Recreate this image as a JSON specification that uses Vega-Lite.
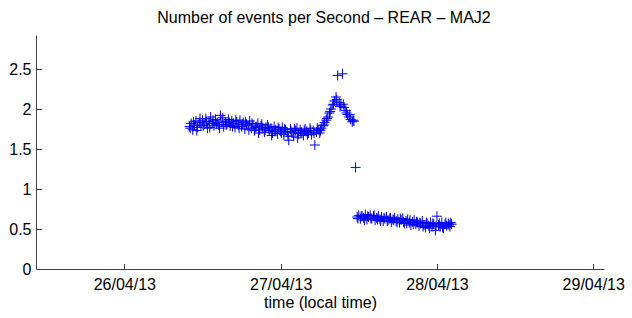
{
  "$schema": "https://vega.github.io/schema/vega-lite/v6.json",
  "width": 568,
  "height": 234,
  "autosize": {"type": "none"},
  "padding": {"left": 36, "top": 35, "right": 28, "bottom": 49},
  "background": "white",
  "config": {
    "view": {"stroke": null},
    "font": "Liberation Sans"
  },
  "title": {
    "text": "Number of events per Second – REAR – MAJ2",
    "font": "Liberation Sans",
    "fontSize": 16,
    "fontWeight": "normal",
    "color": "#000000",
    "anchor": "middle",
    "dx": 4,
    "offset": 9
  },
  "data": {
    "values": [
      {"t": "2013-04-26T10:00", "v": 1.78}, {"t": "2013-04-26T10:15", "v": 1.82}, {"t": "2013-04-26T10:30", "v": 1.74}, {"t": "2013-04-26T10:45", "v": 1.80},
      {"t": "2013-04-26T11:00", "v": 1.85}, {"t": "2013-04-26T11:15", "v": 1.77}, {"t": "2013-04-26T11:30", "v": 1.83}, {"t": "2013-04-26T11:45", "v": 1.79},
      {"t": "2013-04-26T12:00", "v": 1.86}, {"t": "2013-04-26T12:15", "v": 1.81}, {"t": "2013-04-26T12:30", "v": 1.88}, {"t": "2013-04-26T12:45", "v": 1.76},
      {"t": "2013-04-26T13:00", "v": 1.84}, {"t": "2013-04-26T13:15", "v": 1.90}, {"t": "2013-04-26T13:30", "v": 1.82}, {"t": "2013-04-26T13:45", "v": 1.79},
      {"t": "2013-04-26T14:00", "v": 1.87}, {"t": "2013-04-26T14:15", "v": 1.83}, {"t": "2013-04-26T14:30", "v": 1.80}, {"t": "2013-04-26T14:45", "v": 1.92},
      {"t": "2013-04-26T15:00", "v": 1.85}, {"t": "2013-04-26T15:15", "v": 1.78}, {"t": "2013-04-26T15:30", "v": 1.84}, {"t": "2013-04-26T15:45", "v": 1.81},
      {"t": "2013-04-26T16:00", "v": 1.87}, {"t": "2013-04-26T16:15", "v": 1.79}, {"t": "2013-04-26T16:30", "v": 1.85}, {"t": "2013-04-26T16:45", "v": 1.82},
      {"t": "2013-04-26T17:00", "v": 1.77}, {"t": "2013-04-26T17:15", "v": 1.84}, {"t": "2013-04-26T17:30", "v": 1.80}, {"t": "2013-04-26T17:45", "v": 1.86},
      {"t": "2013-04-26T18:00", "v": 1.78}, {"t": "2013-04-26T18:15", "v": 1.83}, {"t": "2013-04-26T18:30", "v": 1.75}, {"t": "2013-04-26T18:45", "v": 1.81},
      {"t": "2013-04-26T19:00", "v": 1.79}, {"t": "2013-04-26T19:15", "v": 1.85}, {"t": "2013-04-26T19:30", "v": 1.76}, {"t": "2013-04-26T19:45", "v": 1.80},
      {"t": "2013-04-26T20:00", "v": 1.73}, {"t": "2013-04-26T20:15", "v": 1.78}, {"t": "2013-04-26T20:30", "v": 1.82}, {"t": "2013-04-26T20:45", "v": 1.74},
      {"t": "2013-04-26T21:00", "v": 1.79}, {"t": "2013-04-26T21:15", "v": 1.76}, {"t": "2013-04-26T21:30", "v": 1.71}, {"t": "2013-04-26T21:45", "v": 1.77},
      {"t": "2013-04-26T22:00", "v": 1.80}, {"t": "2013-04-26T22:15", "v": 1.73}, {"t": "2013-04-26T22:30", "v": 1.76}, {"t": "2013-04-26T22:45", "v": 1.70},
      {"t": "2013-04-26T23:00", "v": 1.78}, {"t": "2013-04-26T23:15", "v": 1.74}, {"t": "2013-04-26T23:30", "v": 1.69}, {"t": "2013-04-26T23:45", "v": 1.75},
      {"t": "2013-04-27T00:00", "v": 1.72}, {"t": "2013-04-27T00:15", "v": 1.77}, {"t": "2013-04-27T00:30", "v": 1.68}, {"t": "2013-04-27T00:45", "v": 1.74},
      {"t": "2013-04-27T01:00", "v": 1.71}, {"t": "2013-04-27T01:15", "v": 1.61}, {"t": "2013-04-27T01:30", "v": 1.75}, {"t": "2013-04-27T01:45", "v": 1.70},
      {"t": "2013-04-27T02:00", "v": 1.66}, {"t": "2013-04-27T02:15", "v": 1.73}, {"t": "2013-04-27T02:30", "v": 1.76}, {"t": "2013-04-27T02:45", "v": 1.69},
      {"t": "2013-04-27T03:00", "v": 1.74}, {"t": "2013-04-27T03:15", "v": 1.71}, {"t": "2013-04-27T03:30", "v": 1.67}, {"t": "2013-04-27T03:45", "v": 1.75},
      {"t": "2013-04-27T04:00", "v": 1.72}, {"t": "2013-04-27T04:15", "v": 1.70}, {"t": "2013-04-27T04:30", "v": 1.76}, {"t": "2013-04-27T04:45", "v": 1.68},
      {"t": "2013-04-27T05:00", "v": 1.73}, {"t": "2013-04-27T05:15", "v": 1.55}, {"t": "2013-04-27T05:30", "v": 1.71}, {"t": "2013-04-27T05:45", "v": 1.74},
      {"t": "2013-04-27T06:00", "v": 1.70}, {"t": "2013-04-27T06:15", "v": 1.76}, {"t": "2013-04-27T06:30", "v": 1.79}, {"t": "2013-04-27T06:45", "v": 1.83},
      {"t": "2013-04-27T07:00", "v": 1.86}, {"t": "2013-04-27T07:15", "v": 1.90}, {"t": "2013-04-27T07:30", "v": 1.95}, {"t": "2013-04-27T07:45", "v": 2.00},
      {"t": "2013-04-27T08:00", "v": 2.05}, {"t": "2013-04-27T08:15", "v": 2.10}, {"t": "2013-04-27T08:30", "v": 2.15}, {"t": "2013-04-27T08:45", "v": 2.42},
      {"t": "2013-04-27T09:00", "v": 2.08}, {"t": "2013-04-27T09:15", "v": 2.05}, {"t": "2013-04-27T09:30", "v": 2.44}, {"t": "2013-04-27T09:45", "v": 2.02},
      {"t": "2013-04-27T10:00", "v": 1.98}, {"t": "2013-04-27T10:15", "v": 1.93}, {"t": "2013-04-27T10:30", "v": 1.90}, {"t": "2013-04-27T10:45", "v": 1.87},
      {"t": "2013-04-27T11:00", "v": 1.84}, {"t": "2013-04-27T11:15", "v": 1.85}, {"t": "2013-04-27T11:30", "v": 1.27},
      {"t": "2013-04-26T10:07", "v": 1.76}, {"t": "2013-04-26T10:37", "v": 1.84}, {"t": "2013-04-26T11:07", "v": 1.73}, {"t": "2013-04-26T11:37", "v": 1.88},
      {"t": "2013-04-26T12:07", "v": 1.79}, {"t": "2013-04-26T12:37", "v": 1.84}, {"t": "2013-04-26T13:07", "v": 1.77}, {"t": "2013-04-26T13:37", "v": 1.86},
      {"t": "2013-04-26T14:07", "v": 1.81}, {"t": "2013-04-26T14:37", "v": 1.76}, {"t": "2013-04-26T15:07", "v": 1.89}, {"t": "2013-04-26T15:37", "v": 1.80},
      {"t": "2013-04-26T16:07", "v": 1.83}, {"t": "2013-04-26T16:37", "v": 1.78}, {"t": "2013-04-26T17:07", "v": 1.86}, {"t": "2013-04-26T17:37", "v": 1.76},
      {"t": "2013-04-26T18:07", "v": 1.81}, {"t": "2013-04-26T18:37", "v": 1.84}, {"t": "2013-04-26T19:07", "v": 1.74}, {"t": "2013-04-26T19:37", "v": 1.82},
      {"t": "2013-04-26T20:07", "v": 1.77}, {"t": "2013-04-26T20:37", "v": 1.70}, {"t": "2013-04-26T21:07", "v": 1.81}, {"t": "2013-04-26T21:37", "v": 1.74},
      {"t": "2013-04-26T22:07", "v": 1.77}, {"t": "2013-04-26T22:37", "v": 1.67}, {"t": "2013-04-26T23:07", "v": 1.72}, {"t": "2013-04-26T23:37", "v": 1.77},
      {"t": "2013-04-27T00:07", "v": 1.70}, {"t": "2013-04-27T00:37", "v": 1.75}, {"t": "2013-04-27T01:07", "v": 1.66}, {"t": "2013-04-27T01:37", "v": 1.72},
      {"t": "2013-04-27T02:07", "v": 1.75}, {"t": "2013-04-27T02:37", "v": 1.64}, {"t": "2013-04-27T03:07", "v": 1.70}, {"t": "2013-04-27T03:37", "v": 1.73},
      {"t": "2013-04-27T04:07", "v": 1.68}, {"t": "2013-04-27T04:37", "v": 1.73}, {"t": "2013-04-27T05:07", "v": 1.70}, {"t": "2013-04-27T05:37", "v": 1.76},
      {"t": "2013-04-27T06:07", "v": 1.73}, {"t": "2013-04-27T06:37", "v": 1.80}, {"t": "2013-04-27T07:07", "v": 1.88}, {"t": "2013-04-27T07:37", "v": 1.97},
      {"t": "2013-04-27T08:07", "v": 2.06}, {"t": "2013-04-27T08:37", "v": 2.12}, {"t": "2013-04-27T09:07", "v": 2.03}, {"t": "2013-04-27T09:37", "v": 2.06},
      {"t": "2013-04-27T10:07", "v": 1.95}, {"t": "2013-04-27T10:37", "v": 1.93}, {"t": "2013-04-27T11:07", "v": 1.86},
      {"t": "2013-04-27T11:45", "v": 0.65}, {"t": "2013-04-27T12:00", "v": 0.67}, {"t": "2013-04-27T12:15", "v": 0.63}, {"t": "2013-04-27T12:30", "v": 0.66},
      {"t": "2013-04-27T12:45", "v": 0.64}, {"t": "2013-04-27T13:00", "v": 0.68}, {"t": "2013-04-27T13:15", "v": 0.62}, {"t": "2013-04-27T13:30", "v": 0.65},
      {"t": "2013-04-27T13:45", "v": 0.67}, {"t": "2013-04-27T14:00", "v": 0.63}, {"t": "2013-04-27T14:15", "v": 0.66}, {"t": "2013-04-27T14:30", "v": 0.61},
      {"t": "2013-04-27T14:45", "v": 0.64}, {"t": "2013-04-27T15:00", "v": 0.66}, {"t": "2013-04-27T15:15", "v": 0.62}, {"t": "2013-04-27T15:30", "v": 0.65},
      {"t": "2013-04-27T15:45", "v": 0.60}, {"t": "2013-04-27T16:00", "v": 0.63}, {"t": "2013-04-27T16:15", "v": 0.65}, {"t": "2013-04-27T16:30", "v": 0.61},
      {"t": "2013-04-27T16:45", "v": 0.63}, {"t": "2013-04-27T17:00", "v": 0.59}, {"t": "2013-04-27T17:15", "v": 0.62}, {"t": "2013-04-27T17:30", "v": 0.64},
      {"t": "2013-04-27T17:45", "v": 0.60}, {"t": "2013-04-27T18:00", "v": 0.62}, {"t": "2013-04-27T18:15", "v": 0.58}, {"t": "2013-04-27T18:30", "v": 0.61},
      {"t": "2013-04-27T18:45", "v": 0.63}, {"t": "2013-04-27T19:00", "v": 0.57}, {"t": "2013-04-27T19:15", "v": 0.60}, {"t": "2013-04-27T19:30", "v": 0.62},
      {"t": "2013-04-27T19:45", "v": 0.58}, {"t": "2013-04-27T20:00", "v": 0.55}, {"t": "2013-04-27T20:15", "v": 0.59}, {"t": "2013-04-27T20:30", "v": 0.61},
      {"t": "2013-04-27T20:45", "v": 0.56}, {"t": "2013-04-27T21:00", "v": 0.58}, {"t": "2013-04-27T21:15", "v": 0.54}, {"t": "2013-04-27T21:30", "v": 0.57},
      {"t": "2013-04-27T21:45", "v": 0.60}, {"t": "2013-04-27T22:00", "v": 0.55}, {"t": "2013-04-27T22:15", "v": 0.52}, {"t": "2013-04-27T22:30", "v": 0.57},
      {"t": "2013-04-27T22:45", "v": 0.54}, {"t": "2013-04-27T23:00", "v": 0.58}, {"t": "2013-04-27T23:15", "v": 0.53}, {"t": "2013-04-27T23:30", "v": 0.56},
      {"t": "2013-04-27T23:45", "v": 0.48}, {"t": "2013-04-28T00:00", "v": 0.66}, {"t": "2013-04-28T00:15", "v": 0.55}, {"t": "2013-04-28T00:30", "v": 0.53},
      {"t": "2013-04-28T00:45", "v": 0.58}, {"t": "2013-04-28T01:00", "v": 0.51}, {"t": "2013-04-28T01:15", "v": 0.56}, {"t": "2013-04-28T01:30", "v": 0.54},
      {"t": "2013-04-28T01:45", "v": 0.57}, {"t": "2013-04-28T02:00", "v": 0.53}, {"t": "2013-04-28T02:15", "v": 0.56},
      {"t": "2013-04-27T11:52", "v": 0.63}, {"t": "2013-04-27T12:22", "v": 0.66}, {"t": "2013-04-27T12:52", "v": 0.61}, {"t": "2013-04-27T13:22", "v": 0.66},
      {"t": "2013-04-27T13:52", "v": 0.63}, {"t": "2013-04-27T14:22", "v": 0.67}, {"t": "2013-04-27T14:52", "v": 0.62}, {"t": "2013-04-27T15:22", "v": 0.60},
      {"t": "2013-04-27T15:52", "v": 0.64}, {"t": "2013-04-27T16:22", "v": 0.60}, {"t": "2013-04-27T16:52", "v": 0.64}, {"t": "2013-04-27T17:22", "v": 0.61},
      {"t": "2013-04-27T17:52", "v": 0.58}, {"t": "2013-04-27T18:22", "v": 0.63}, {"t": "2013-04-27T18:52", "v": 0.59}, {"t": "2013-04-27T19:22", "v": 0.57},
      {"t": "2013-04-27T19:52", "v": 0.61}, {"t": "2013-04-27T20:22", "v": 0.56}, {"t": "2013-04-27T20:52", "v": 0.59}, {"t": "2013-04-27T21:22", "v": 0.58},
      {"t": "2013-04-27T21:52", "v": 0.53}, {"t": "2013-04-27T22:22", "v": 0.58}, {"t": "2013-04-27T22:52", "v": 0.51}, {"t": "2013-04-27T23:22", "v": 0.57},
      {"t": "2013-04-27T23:52", "v": 0.54}, {"t": "2013-04-28T00:22", "v": 0.57}, {"t": "2013-04-28T00:52", "v": 0.52}, {"t": "2013-04-28T01:22", "v": 0.58},
      {"t": "2013-04-28T01:52", "v": 0.55}, {"t": "2013-04-28T02:07", "v": 0.58}
    ]
  },
  "mark": {
    "type": "point",
    "shape": "M-1,0L1,0M0,-1L0,1",
    "filled": false,
    "stroke": "#0000ff",
    "strokeWidth": 1,
    "opacity": 1,
    "size": 100
  },
  "encoding": {
    "x": {
      "field": "t",
      "type": "temporal",
      "scale": {
        "domain": [
          {"year": 2013, "month": 4, "date": 25, "hours": 10, "minutes": 26},
          {"year": 2013, "month": 4, "date": 29, "hours": 1, "minutes": 39}
        ],
        "nice": false
      },
      "axis": {
        "values": [
          {"year": 2013, "month": 4, "date": 26},
          {"year": 2013, "month": 4, "date": 27},
          {"year": 2013, "month": 4, "date": 28},
          {"year": 2013, "month": 4, "date": 29}
        ],
        "format": "%d/%m/%y",
        "title": "time (local time)",
        "titleFont": "Liberation Sans",
        "titleFontSize": 16,
        "titleFontWeight": "normal",
        "titleColor": "#000000",
        "titlePadding": 2,
        "labelFont": "Liberation Sans",
        "labelFontSize": 16,
        "labelColor": "#000000",
        "labelPadding": 13,
        "labelFlush": false,
        "labelOverlap": false,
        "tickSize": -5.5,
        "tickColor": "#404040",
        "domainColor": "#404040",
        "grid": false
      }
    },
    "y": {
      "field": "v",
      "type": "quantitative",
      "scale": {"domain": [0, 2.925], "nice": false, "zero": false},
      "axis": {
        "values": [0, 0.5, 1, 1.5, 2, 2.5],
        "format": "~g",
        "title": null,
        "labelFont": "Liberation Sans",
        "labelFontSize": 16,
        "labelColor": "#000000",
        "labelPadding": 10.5,
        "tickSize": -5.5,
        "tickColor": "#404040",
        "domainColor": "#404040",
        "grid": false
      }
    }
  }
}
